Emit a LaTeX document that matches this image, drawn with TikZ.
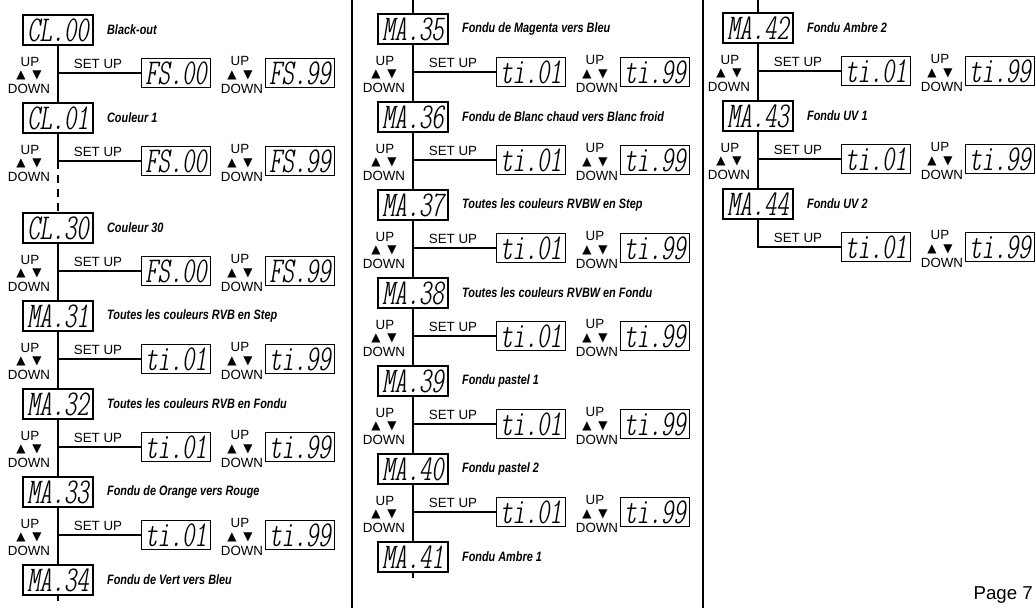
\documentclass[tikz,border=0pt]{standalone}
\usepackage{fontspec}
\usepackage{graphicx}
\usepackage{tikz}
\usetikzlibrary{positioning}

\newfontfamily\modefont{Liberation Sans}[FakeStretch=0.8]
\newfontfamily\keyfont{Liberation Sans}
\newfontfamily\arrowfont{DejaVu Sans}
\newfontfamily\segfont{lmmonoltcond10-oblique.otf}

\newcommand{\segtext}[1]{\resizebox{46pt}{17pt}{\segfont #1}}

\tikzset{
  dispbox/.style={draw, line width=0.8pt, inner sep=0pt,
                  minimum width=52.5pt, minimum height=22.5pt},
  valbox/.style={draw, line width=0.8pt, inner sep=0pt,
                 minimum width=52pt, minimum height=22pt},
  trunk/.style={line width=1.6pt},
  modetext/.style={font=\modefont\bfseries\itshape\fontsize{10.2}{12}\selectfont, inner sep=0pt},
  keytext/.style={font=\keyfont\fontsize{10}{12}\selectfont, inner sep=0pt, anchor=base},
  arrowtext/.style={font=\arrowfont\fontsize{9}{10}\selectfont, inner sep=0pt, anchor=base},
}

\begin{document}
\begin{tikzpicture}[x=0.75pt, y=-0.75pt]
  \useasboundingbox (0,0) rectangle (1036,608);
  % column rules
  \draw[trunk] (352,0) -- (352,608);
  \draw[trunk] (703,0) -- (703,608);

  % mode displays
  \foreach \n/\bx/\ty/\dcode/\txt in {
      1/0/15/CL.00/Black-out,
      2/0/103/CL.01/Couleur 1,
      3/0/213/CL.30/Couleur 30,
      4/0/301/MA.31/Toutes les couleurs RVB en Step,
      5/0/389/MA.32/Toutes les couleurs RVB en Fondu,
      6/0/477/MA.33/Fondu de Orange vers Rouge,
      7/0/565/MA.34/Fondu de Vert vers Bleu,
      8/355/14/MA.35/Fondu de Magenta vers Bleu,
      9/355/102/MA.36/Fondu de Blanc chaud vers Blanc froid,
      10/355/190/MA.37/Toutes les couleurs RVBW en Step,
      11/355/278/MA.38/Toutes les couleurs RVBW en Fondu,
      12/355/366/MA.39/Fondu pastel 1,
      13/355/454/MA.40/Fondu pastel 2,
      14/355/542/MA.41/Fondu Ambre 1,
      15/700/13/MA.42/Fondu Ambre 2,
      16/700/101/MA.43/Fondu UV 1,
      17/700/189/MA.44/Fondu UV 2}
  {
    \node[dispbox] (m\n) at (\bx+58,\ty+15) {\segtext{\dcode}};
    \node[modetext, right=10pt of m\n] (t\n) {\txt};
  }

  % set up branches
  \foreach \n/\bx/\ty/\lo/\hi in {
      1/0/15/FS.00/FS.99, 2/0/103/FS.00/FS.99, 3/0/213/FS.00/FS.99,
      4/0/301/ti.01/ti.99, 5/0/389/ti.01/ti.99, 6/0/477/ti.01/ti.99,
      8/355/14/ti.01/ti.99, 9/355/102/ti.01/ti.99, 10/355/190/ti.01/ti.99,
      11/355/278/ti.01/ti.99, 12/355/366/ti.01/ti.99, 13/355/454/ti.01/ti.99,
      15/700/13/ti.01/ti.99, 16/700/101/ti.01/ti.99}
  {
    \node[valbox] (a\n) at (\bx+176,\ty+58) {\segtext{\lo}};
    \node[valbox] (b\n) at (\bx+300,\ty+58) {\segtext{\hi}};
    \node[keytext] (s\n) at (\bx+98,\ty+53) {SET UP};
    \node[keytext] (upl\n) at (\bx+30,\ty+51) {UP};
    \node[arrowtext] (arl\n) at (\bx+29,\ty+63) {▲\hspace{5pt}▼};
    \node[keytext] (dnl\n) at (\bx+29,\ty+78) {DOWN};
    \node[keytext] (upr\n) at (\bx+240,\ty+50.5) {UP};
    \node[arrowtext] (arr\n) at (\bx+240,\ty+63) {▲\hspace{5pt}▼};
    \node[keytext] (dnr\n) at (\bx+242,\ty+78) {DOWN};
    \draw[trunk] (m\n.south |- a\n.west) -- (a\n.west);
  }

  % last branch of the third column
  \node[valbox] (a17) at (876,247) {\segtext{ti.01}};
  \node[valbox] (b17) at (1000,247) {\segtext{ti.99}};
  \node[keytext] (s17) at (798,242) {SET UP};
  \node[keytext] (upr17) at (940,239.5) {UP};
  \node[arrowtext] (arr17) at (940,252) {▲\hspace{5pt}▼};
  \node[keytext] (dnr17) at (942,267) {DOWN};
  \draw[trunk] (m17.south) |- (a17.west);

  % trunks
  \foreach \a/\b in {1/2, 3/4, 4/5, 5/6, 6/7, 8/9, 9/10, 10/11, 11/12,
                     12/13, 13/14, 15/16, 16/17}
    \draw[trunk] (m\a.south) -- (m\b.north);
  \draw[trunk] (m2.south) -- (m2.south |- a2.west);
  \draw[trunk, dash pattern=on 6pt off 4.5pt] (m2.south |- a2.west) -- (m3.north);

  \coordinate (top8) at (413,0);
  \coordinate (top15) at (758,0);
  \coordinate (end7) at (58,601);
  \coordinate (end14) at (413,578);
  \draw[trunk] (top8) -- (m8.north);
  \draw[trunk] (top15) -- (m15.north);
  \draw[trunk] (m7.south) -- (end7);
  \draw[trunk] (m14.south) -- (end14);

  \node[anchor=south east, inner sep=0pt, font=\keyfont\fontsize{14}{14}\selectfont] (page) at (1033,604) {Page 7};
\end{tikzpicture}
\end{document}
